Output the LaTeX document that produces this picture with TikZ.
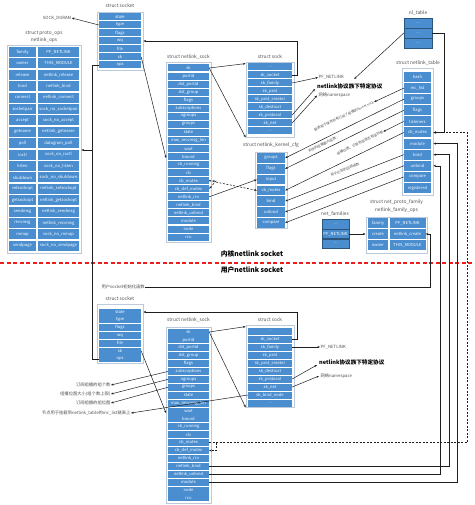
\documentclass[tikz,border=0pt]{standalone}
\usepackage{fontspec}
\setmainfont{Noto Sans CJK SC}
\usetikzlibrary{arrows.meta,calc}
\definecolor{fb}{RGB}{74,142,207}
\definecolor{bb}{RGB}{188,202,220}
\definecolor{lc}{RGB}{30,30,30}
\definecolor{sepred}{RGB}{235,30,30}
\definecolor{tx}{RGB}{80,80,80}
\newcommand\tdots{...}
\newcommand\sfields[7]{%
  \foreach \t [count=\i from 0] in {#7} {
    \node[fld, minimum width=#3, minimum height=#6] (#1-\i) at (#2, {#4+\i*#5}) {\t};
  }}
\newcommand\dfields[9]{%
  \foreach \a/\b [count=\i from 0] in {#9} {
    \node[fld, minimum width=#3, minimum height=#8] (#1L-\i) at (#2, {#6+\i*#7}) {\a};
    \node[fld, minimum width=#5, minimum height=#8] (#1R-\i) at (#4, {#6+\i*#7}) {\b};
  }}
\begin{document}
\catcode`\_=12
\begin{tikzpicture}[x=1pt,y=-1pt,
  fld/.style={fill=fb, text=white, inner sep=0pt, font=\fontsize{4.1}{4.5}\selectfont},
  outer/.style={draw=bb, fill=white, line width=0.8pt, inner sep=0pt},
  ttl/.style={font=\fontsize{4.8}{5}\selectfont, text=tx, inner sep=0pt},
  note/.style={font=\fontsize{4.3}{5}\selectfont, text=tx, inner sep=0.4pt},
  rnote/.style={font=\fontsize{3.4}{4}\selectfont, text=tx, inner sep=0.3pt},
  big/.style={font=\bfseries\fontsize{6.8}{8}\selectfont, inner sep=0pt},
  mid/.style={font=\bfseries\fontsize{5.6}{7}\selectfont, inner sep=0pt},
  arr/.style={draw=lc, line width=0.5pt, -{Stealth[length=2.6pt,width=2.1pt]}},
  lnk/.style={draw=lc, line width=0.5pt},
  dsh/.style={draw=lc, line width=0.6pt, dash pattern=on 2pt off 1.5pt, -{Stealth[length=2.6pt,width=2.1pt]}},
  sep/.style={draw=sepred, line width=1.1pt, dash pattern=on 4pt off 2.5pt},
]
\fill[white] (0,0) rectangle (474,505);
\useasboundingbox (0,0) rectangle (474,505);

% ---------- top struct socket
\node[ttl] (tsl) at (120,6) {struct socket};
\node[outer, minimum width=46, minimum height=58] (tsbox) at (120,41) {};
\sfields{TS}{120}{42}{17}{8}{7}{state,type,flags,wq,file,sk,ops}
\node[note] (sockdgram) at (57,18) {SOCK_DGRAM};

% ---------- proto_ops
\node[ttl] (pol1) at (44,33) {struct proto_ops};
\node[ttl] (pol2) at (44,40.5) {netlink_ops};
\node[outer, minimum width=74, minimum height=208] (pobox) at (44,149) {};
\dfields{PO}{22.5}{27}{58.5}{41}{52}{11.4}{10}{family/PF_NETLINK,owner/THIS_MODULE,release/netlink_release,bind/netlink_bind,connect/netlink_connect,socketpair/sock_no_socketpair,accept/sock_no_accept,getname/netlink_getname,poll/datagram_poll,ioctl/sock_no_ioctl,listen/sock_no_listen,shutdown/sock_no_shutdown,setsockopt/netlink_setsockopt,getsockopt/netlink_getsockopt,sendmsg/netlink_sendmsg,recvmsg/netlink_recvmsg,mmap/sock_no_mmap,sendpage/sock_no_sendpage}

% ---------- top netlink_sock
\node[ttl] (tnl) at (188.5,57) {struct netlink_sock};
\node[outer, minimum width=45, minimum height=180] (tnbox) at (188.5,152) {};
\sfields{TN}{188.5}{41}{68}{8.05}{7}{sk,portid,dst_portid,dst_group,flags,subscriptions,ngroups,groups,state,max_recvmsg_len,wait,bound,cb_running,cb,cb_mutex,cb_def_mutex,netlink_rcv,netlink_bind,netlink_unbind,module,node,rcu}

% ---------- top struct sock
\node[ttl] (tkl) at (270,57) {struct sock};
\node[outer, minimum width=48, minimum height=75] (tkbox) at (270,99.5) {};
\sfields{TK}{270}{44}{67}{8}{7}{\tdots,sk_socket,sk_family,sk_prot,sk_prot_creator,sk_destruct,sk_protocol,sk_net,\tdots}
\node[note, anchor=west] (pf1) at (318,77.5) {PF_NETLINK};
\node[mid, anchor=west] (pr1) at (317,86) {netlink协议族下特定协议};
\node[note, anchor=west] (ns1) at (318,95.5) {网络namespace};

% ---------- nl_table
\node[ttl] (nltl) at (418,13) {nl_table};
\sfields{NLT}{418}{28}{23}{10}{10}{\tdots,\tdots,\tdots}
\foreach \i in {0,1,2} {\draw[fb!60!black, line width=0.3pt] (NLT-\i.north west) rectangle (NLT-\i.south east);}

% ---------- netlink_table
\node[ttl] (ntl) at (418,63) {struct netlink_table};
\node[outer, minimum width=31, minimum height=127] (ntbox) at (417.5,131.5) {};
\sfields{NTB}{417.5}{27}{77}{11.1}{10}{hash,mc_list,groups,flags,listeners,cb_mutex,module,bind,unbind,compare,registered}

% ---------- netlink_kernel_cfg
\node[ttl] (cfl) at (271,145) {struct netlink_kernel_cfg};
\node[outer, minimum width=32, minimum height=76] (cfbox) at (271,190) {};
\sfields{CF}{271}{28}{158}{10.8}{9.6}{groups,flags,input,cb_mutex,bind,unbind,compare}

% rotated annotations
\node[rnote, rotate=25] (t1) at (344,116) {链表用于保存所有订阅了组播的kernel sock};
\node[rnote, rotate=26] (t2) at (322,145) {支持的组播最大组数};
\node[rnote, rotate=26] (t3) at (360,143) {组播位图，记录各组是否有监听者};
\node[rnote, rotate=23] (t4) at (345,169.5) {用于比较的回调函数};

% ---------- net_families
\node[ttl] (nfl) at (335,214) {net_families};
\sfields{NF}{335.5}{27}{224.5}{9.5}{9.5}{\tdots,PF_NETLINK,\tdots}
\foreach \i in {0,1,2} {\draw[fb!60!black, line width=0.3pt] (NF-\i.north west) rectangle (NF-\i.south east);}

% ---------- net_proto_family
\node[ttl] (npl1) at (396.5,202.5) {struct net_proto_family};
\node[ttl] (npl2) at (396.5,210) {netlink_family_ops};
\node[outer, minimum width=61, minimum height=36] (npbox) at (396.5,235) {};
\dfields{NP}{378}{20}{407.5}{36}{223}{11}{10}{family/PF_NETLINK,create/netlink_create,owner/THIS_MODULE}

% ---------- separator
\node[big] (kern) at (252,254) {内核netlink socket};
\coordinate (sepL) at (0,263);
\coordinate (sepR) at (474,263);
\draw[sep] (sepL) -- (sepR);
\node[big] (user) at (252,270) {用户netlink socket};
\node[note, anchor=west] (uinit) at (101,287) {用户socket初始化函数};

% ---------- bottom struct socket
\node[ttl] (bsl) at (120,299) {struct socket};
\node[outer, minimum width=46, minimum height=59] (bsbox) at (120,333.5) {};
\sfields{BS}{120}{42}{312}{7.8}{7}{state,type,flags,wq,file,sk,ops}

% ---------- bottom netlink_sock
\node[ttl] (bnl) at (188.5,320) {struct netlink_sock};
\node[outer, minimum width=45, minimum height=176] (bnbox) at (188.5,415) {};
\sfields{BN}{188.5}{41}{332}{7.9}{7}{sk,portid,dst_portid,dst_group,flags,subscriptions,ngroups,groups,state,max_recvmsg_len,wait,bound,cb_running,cb,cb_mutex,cb_def_mutex,netlink_rcv,netlink_bind,netlink_unbind,module,node,rcu}

% ---------- bottom struct sock
\node[ttl] (bkl) at (270,320) {struct sock};
\node[outer, minimum width=48, minimum height=82] (bkbox) at (270,366) {};
\sfields{BK}{270}{44}{331}{8}{7}{\tdots,sk_socket,sk_family,sk_prot,sk_prot_creator,sk_destruct,sk_protocol,sk_net,sk_bind_node,\tdots}
\node[note, anchor=west] (pf2) at (320,347) {PF_NETLINK};
\node[mid, anchor=west] (pr2) at (319,362) {netlink协议族下特定协议};
\node[note, anchor=west] (ns2) at (320,376) {网络namespace};

% left annotations
\node[note, anchor=east] (a1) at (111,385) {订阅组播的组个数};
\node[note, anchor=east] (a2) at (111,394) {组播位图大小(组个数上限)};
\node[note, anchor=east] (a3) at (111,403) {订阅组播的组位图};
\node[note, anchor=east] (a4) at (131,413) {节点用于挂载到netlink_table的mc_list链表上};

% ================= connectors (top)
\coordinate (tnin) at (166,158);
\coordinate (vj) at (92,150);
\draw[arr] (TS-1.west) -- (sockdgram.east);
\draw[arr] (TS-5.east) -- (tnin);
\draw[arr] (TS-6.west) -| (vj) -- (vj -| pobox.east);
\draw[lnk] (BS-6.west) -| (vj);
\draw[arr] (TN-0.east) -- ($(tkbox.north west)+(0,2)$);
\draw[arr] (TN-0.east) -- (tkbox.south west);
\draw[arr] (TK-1.east) -- ++(5,0) |- (tsbox.east |- TS-3);
\draw[arr] (TK-2.east) -- (pf1.west);
\draw[arr] (TK-6.east) -- ($(pr1.south west)+(-2,0)$);
\draw[arr] (TK-7.east) -- ($(ns1.west)+(-1,0)$);
\draw[arr, shorten >=6pt] (NLT-1.west) -- (pr1.north);
\draw[arr] (NLT-1.east) -- ++(12,0) |- (ntbox.east |- NTB-5);
\draw[arr] (TN-16.east) -- (CF-2.west);
\draw[dsh] (TN-14.east) -- (CF-3.west);
\draw[dsh] (TN-14.east) -- ++(7,0) -- (TN-15.east);

\draw[arr] (NTB-2.west) -- (CF-0.east);
\draw[arr] (NTB-3.west) -- (CF-1.east);
\draw[arr] (NTB-5.west) -- (CF-3.east);
\draw[arr] (NTB-7.west) -- (CF-4.east);
\draw[arr] (NTB-8.west) -- (CF-5.east);
\draw[arr] (NTB-9.west) -- (CF-6.east);
\draw[arr] (NTB-1.west) -- (t1.east);
\draw[arr] (NTB-4.west) -- (t3.east);

\draw[arr] (NF-1.east) -- (npbox.west |- NF-1);
\draw[arr] (uinit.east) -| ($(NPR-1.east)+(5,0)$) -- (NPR-1.east);

% ================= connectors (bottom)
\coordinate (bnin) at (166,413);
\draw[arr] (BS-5.east) -- (bnin);
\draw[arr] (BN-0.east) -- ($(bkbox.north west)+(0,2)$);
\draw[arr] (BN-0.east) -- (bkbox.south west);
\draw[arr] (BK-1.east) -- ++(5,0) |- (bsbox.east |- BS-0);
\draw[arr] (BK-2.east) -- (pf2.west);
\draw[arr] (BK-6.east) -- ($(pr2.south west)+(-2,0)$);
\draw[arr] (BK-7.east) -- ($(ns2.west)+(-1,0)$);
\draw[arr] (BK-8.west) -- (a4.east);
\draw[arr] (BN-5.west) -- (a1.east);
\draw[arr] (BN-6.west) -- (a2.east);
\draw[arr] (BN-7.west) -- (a3.east);

\draw[arr] (BN-19.east) -| ($(ntbox.east |- NTB-6)+(24,0)$) -- (ntbox.east |- NTB-6);
\draw[arr] (BN-17.east) -| ($(ntbox.east |- NTB-7)+(16,0)$) -- (ntbox.east |- NTB-7);
\draw[arr] (BN-18.east) -| ($(ntbox.east |- NTB-8)+(7,0)$) -- (ntbox.east |- NTB-8);
\draw[dsh] (BN-14.east) -| ($(ntbox.east |- NTB-5)+(34,0)$) -- (ntbox.east |- NTB-5);
\draw[dsh] (BN-14.east) -- ++(7,0) |- (BN-15.east);
\end{tikzpicture}
\end{document}
